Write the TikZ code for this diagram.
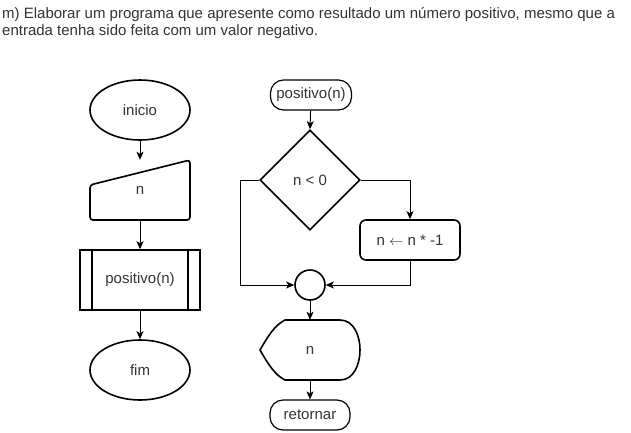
\documentclass[tikz,border=0pt]{standalone}
\usepackage{fontspec}
\setmainfont{Liberation Sans}
\usetikzlibrary{shapes.geometric,arrows.meta}
\definecolor{txt}{HTML}{333333}
\tikzset{
  fnt/.style={font=\fontsize{15}{18}\selectfont, text=txt},
  shp/.style={draw=black, line width=1.6pt, fnt, inner sep=0pt},
  term/.style={shp, ellipse, minimum width=100pt, minimum height=60pt},
  pill/.style={draw=black, line width=1.2pt, rounded corners=13pt, fnt, inner sep=0pt, minimum height=30pt},
  box/.style={shp, rectangle, minimum width=100pt, minimum height=60pt},
  ghost/.style={rectangle, inner sep=0pt, fnt},
  titletext/.style={anchor=base west, inner sep=0pt, text=txt, font=\fontsize{15}{17}\selectfont},
  conn/.style={draw=black, line width=1pt, -{Stealth[length=8pt,width=7pt,inset=2pt]}}
}
\begin{document}
\begin{tikzpicture}[x=1pt,y=-1pt]
\useasboundingbox (0,0) rectangle (631,432);
% title
\node[titletext] (title1) at (2,18) {m) Elaborar um programa que apresente como resultado um número positivo, mesmo que a};
\node[titletext] (title2) at (2,35) {entrada tenha sido feita com um valor negativo.};
% left flowchart
\node[term] (ini) at (140,110) {inicio};
\node[ghost, minimum width=100pt, minimum height=60pt] (inp) at (140,190) {n};
\draw[shp, rounded corners=3pt] (90,185) -- (190,160) -- (190,220) -- (90,220) -- cycle;
\node[box, minimum width=120pt] (sub) at (140,280) {positivo(n)};
\draw[shp] (92,250) -- (92,310) (188,250) -- (188,310);
\node[term] (fim) at (140,370) {fim};
\draw[conn] (ini) -- (inp.north);
\draw[conn] (inp.south) -- (sub.north);
\draw[conn] (sub.south) -- (fim.north);
% right flowchart
\node[pill, minimum width=81pt] (pos) at (311,95) {positivo(n)};
\node[shp, diamond, minimum width=100pt, minimum height=100pt, aspect=1] (dia) at (310,180) {n < 0};
\node[box, rounded corners=6pt, minimum height=40pt] (neg) at (410,240) {n $\leftarrow$ n * -1};
\node[shp, circle, minimum size=30pt] (join) at (310,285) {};
\node[ghost, minimum width=100pt, minimum height=60pt] (out) at (310,350) {n};
\draw[shp] (260,350) .. controls (268,336) and (275,325) .. (285,320) -- (340,320)
  .. controls (354,320) and (360,336) .. (360,350)
  .. controls (360,364) and (354,380) .. (340,380) -- (285,380)
  .. controls (275,375) and (268,364) .. (260,350) -- cycle;
\node[pill, minimum width=80pt] (ret) at (310,415) {retornar};
\draw[conn] (pos) -- (dia.north);
\draw[conn] (dia.east) -| (neg.north);
\draw[conn] (dia.west) -- ++(-19,0) |- (join.west);
\draw[conn] (neg.south) |- (join.east);
\draw[conn] (join) -- (out.north);
\draw[conn] (out.south) -- (ret.north);
\end{tikzpicture}
\end{document}
